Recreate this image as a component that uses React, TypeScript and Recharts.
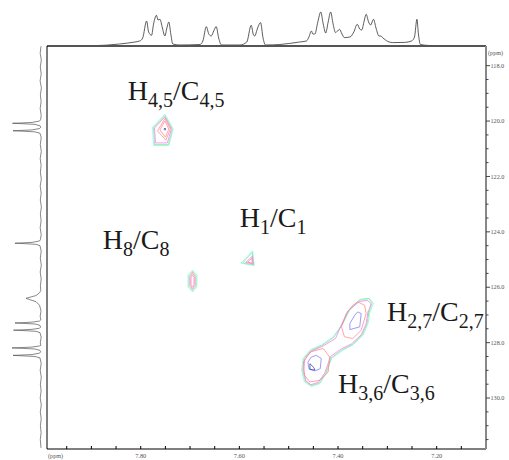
import React from 'react';
import { ScatterChart, Scatter, XAxis, YAxis, LineChart, Line, Label, ReferenceLine } from 'recharts';

// ---------- axes ----------
const X_DOMAIN: [number, number] = [7.1, 7.99];
const Y_DOMAIN: [number, number] = [117.29, 131.84];
const xTicks = [7.95, 7.9, 7.85, 7.8, 7.75, 7.7, 7.65, 7.6, 7.55, 7.5, 7.45, 7.4, 7.35, 7.3, 7.25, 7.2, 7.15];
const xTickLabels = ['7.80', '7.60', '7.40', '7.20'];
const yTicks = [118, 118.5, 119, 119.5, 120, 120.5, 121, 121.5, 122, 122.5, 123, 123.5, 124, 124.5, 125, 125.5, 126, 126.5, 127, 127.5, 128, 128.5, 129, 129.5, 130, 130.5, 131, 131.5];
const yTickLabels = ['118.0', '120.0', '122.0', '124.0', '126.0', '128.0', '130.0'];
const unitLabel = '(ppm)';

// ---------- 1H projection (top): [ppm, intensity] ----------
const topSpectrum: [number, number][] = [
  [7.989, 0], [7.897, 0.3], [7.843, 2], [7.812, 4], [7.802, 5], [7.796, 8], [7.788, 25], [7.784, 14],
  [7.778, 10.7], [7.774, 22], [7.768, 30.7], [7.765, 26], [7.761, 26.7], [7.756, 18], [7.751, 10],
  [7.747, 18], [7.743, 24], [7.739, 12], [7.735, 2], [7.721, 1], [7.68, 1.5], [7.674, 5], [7.667, 19.4],
  [7.662, 12], [7.657, 10], [7.652, 15], [7.647, 19.4], [7.642, 8], [7.636, 1], [7.599, 1], [7.585, 4],
  [7.576, 20.7], [7.572, 12], [7.569, 10], [7.563, 18], [7.557, 23.4], [7.552, 8], [7.547, 1],
  [7.518, 1.5], [7.478, 4], [7.464, 5], [7.459, 9], [7.454, 15], [7.451, 12], [7.447, 12], [7.441, 24],
  [7.435, 34], [7.43, 22], [7.425, 13], [7.42, 24], [7.415, 34], [7.41, 22], [7.405, 13.4], [7.401, 15],
  [7.397, 16.7], [7.392, 12], [7.387, 8.4], [7.376, 9], [7.368, 14], [7.361, 21.7], [7.356, 17],
  [7.352, 16], [7.347, 25], [7.343, 31.7], [7.338, 24], [7.334, 21], [7.328, 26.7], [7.323, 18],
  [7.317, 10], [7.313, 10], [7.309, 8], [7.305, 6.5], [7.299, 4.5], [7.289, 3.4], [7.265, 3.6],
  [7.251, 5], [7.245, 9], [7.24, 26.7], [7.237, 12], [7.233, 1.5], [7.214, 0.5], [7.1, 0],
];

// ---------- 13C projection (left): [ppm, intensity] ----------
const leftSpectrum: [number, number][] = [
  [117.3, 1.0], [117.55, 1.8], [117.8, 0.7], [118.05, 1.7], [118.3, 0.8], [118.55, 1.9], [118.8, 0.6],
  [119.05, 1.6], [119.3, 0.9], [119.55, 1.8], [119.8, 0.8], [119.95, 1.4],
  [120.0, 2.5], [120.05, 10], [120.07, 22], [120.08, 29.5], [120.095, 20], [120.12, 7], [120.17, 2],
  [120.22, 1.2],
  [120.27, 2.5], [120.32, 10], [120.34, 22], [120.35, 29], [120.365, 20], [120.39, 7], [120.44, 2],
  [120.6, 0.8], [120.85, 1.7], [121.1, 0.7], [121.35, 1.8], [121.6, 0.9], [121.85, 1.6], [122.1, 0.7],
  [122.35, 1.8], [122.6, 0.8], [122.85, 1.7], [123.1, 0.6], [123.35, 1.6], [123.6, 0.9], [123.85, 1.8],
  [124.1, 0.8], [124.28, 1.6],
  [124.33, 2.5], [124.38, 10], [124.4, 21], [124.41, 27], [124.425, 18], [124.45, 6], [124.5, 2],
  [124.7, 0.8], [124.95, 1.7], [125.2, 0.7], [125.45, 1.8], [125.7, 0.8], [125.95, 1.6], [126.12, 1.2],
  [126.2, 2.5], [126.3, 6], [126.36, 12], [126.4, 16], [126.45, 12], [126.52, 6], [126.65, 2.5],
  [126.85, 1.0], [127.05, 1.8], [127.18, 1.2],
  [127.22, 2.5], [127.26, 10], [127.28, 20], [127.29, 27], [127.305, 18], [127.33, 6], [127.38, 2],
  [127.44, 1.4],
  [127.48, 2.5], [127.52, 10], [127.54, 21], [127.55, 28.5], [127.565, 19], [127.59, 6], [127.64, 2],
  [127.8, 0.8], [128.0, 1.7], [128.1, 1.2],
  [128.12, 2.5], [128.16, 10], [128.18, 22], [128.19, 30], [128.205, 20], [128.23, 7], [128.28, 2],
  [128.33, 1.3],
  [128.38, 2.5], [128.43, 10], [128.45, 22], [128.46, 29], [128.475, 20], [128.5, 7], [128.55, 2],
  [128.75, 0.8], [129.0, 1.8], [129.25, 0.7], [129.5, 1.6], [129.75, 0.9], [130.0, 1.8], [130.25, 0.7],
  [130.5, 1.7], [130.75, 0.8], [131.0, 1.6], [131.25, 0.9], [131.5, 1.7], [131.8, 1.0],
];

// ---------- contours: [1H ppm, 13C ppm] ----------
const h45Cyan: [number, number][] = [[7.751, 119.75], [7.734, 120.29], [7.743, 120.88], [7.774, 120.88], [7.776, 120.22]];
const h45Green: [number, number][] = [[7.751, 119.8], [7.736, 120.29], [7.744, 120.85], [7.772, 120.85], [7.774, 120.23]];
const h45Magenta: [number, number][] = [[7.751, 119.85], [7.738, 120.29], [7.746, 120.79], [7.77, 120.79], [7.772, 120.25]];
const h45Red: [number, number][] = [[7.751, 119.91], [7.74, 120.29], [7.749, 120.69], [7.766, 120.36]];
const h45Red2: [number, number][] = [[7.751, 120.0], [7.743, 120.29], [7.75, 120.58], [7.761, 120.32]];
const h45Blue: [number, number][] = [[7.751, 120.25], [7.749, 120.29], [7.751, 120.33], [7.753, 120.29]];

const h8Cyan: [number, number][] = [[7.695, 125.38], [7.686, 125.56], [7.686, 125.99], [7.695, 126.17], [7.704, 125.99], [7.704, 125.56]];
const h8Green: [number, number][] = [[7.695, 125.43], [7.688, 125.59], [7.688, 125.96], [7.695, 126.12], [7.702, 125.96], [7.702, 125.59]];
const h8Red: [number, number][] = [[7.695, 125.47], [7.69, 125.62], [7.69, 125.93], [7.695, 126.07], [7.7, 125.93], [7.7, 125.62]];
const h8Magenta: [number, number][] = [[7.695, 125.55], [7.692, 125.65], [7.692, 125.9], [7.695, 126.0], [7.698, 125.9], [7.698, 125.65]];

const h1Cyan: [number, number][] = [[7.573, 124.68], [7.57, 125.22], [7.597, 125.13]];
const h1Green: [number, number][] = [[7.574, 124.74], [7.571, 125.19], [7.593, 125.12]];
const h1Magenta: [number, number][] = [[7.574, 124.88], [7.572, 125.16], [7.587, 125.1]];
const h1Red: [number, number][] = [[7.575, 124.95], [7.574, 125.13], [7.583, 125.09]];

const h27Cyan: [number, number][] = [
  [7.356, 126.47], [7.336, 126.41], [7.328, 126.57], [7.336, 126.95], [7.339, 127.31], [7.349, 127.73],
  [7.37, 128.09], [7.39, 128.27], [7.413, 128.57], [7.424, 129.12], [7.437, 129.48], [7.454, 129.58],
  [7.468, 129.42], [7.474, 129.0], [7.471, 128.57], [7.457, 128.27], [7.434, 128.09], [7.41, 127.79],
  [7.39, 127.31], [7.376, 126.83],
];
const h27Green: [number, number][] = [
  [7.356, 126.44], [7.338, 126.4], [7.331, 126.57], [7.338, 126.95], [7.341, 127.31], [7.351, 127.72],
  [7.371, 128.07], [7.391, 128.25], [7.414, 128.55], [7.425, 129.11], [7.438, 129.46], [7.454, 129.55],
  [7.466, 129.4], [7.472, 129.0], [7.469, 128.57], [7.455, 128.28], [7.432, 128.1], [7.408, 127.8],
  [7.391, 127.32], [7.378, 126.84],
];
const h27Magenta: [number, number][] = [
  [7.357, 126.52], [7.34, 126.47], [7.333, 126.6], [7.34, 126.95], [7.343, 127.33], [7.353, 127.72],
  [7.373, 128.05], [7.393, 128.22], [7.415, 128.5], [7.427, 129.1], [7.44, 129.43], [7.455, 129.52],
  [7.465, 129.38], [7.47, 129.0], [7.467, 128.58], [7.453, 128.3], [7.43, 128.12], [7.405, 127.85],
  [7.393, 127.35], [7.38, 126.85],
];
const h27Red: [number, number][] = [[7.36, 126.53], [7.346, 126.65], [7.343, 126.95], [7.353, 127.55], [7.37, 127.85], [7.387, 127.79], [7.393, 127.43], [7.383, 126.95], [7.37, 126.65]];
const h36Red: [number, number][] = [[7.43, 128.21], [7.417, 128.52], [7.42, 129.06], [7.437, 129.36], [7.457, 129.42], [7.468, 129.18], [7.47, 128.7], [7.457, 128.34]];
const h27Blue: [number, number][] = [[7.36, 126.89], [7.353, 126.95], [7.356, 127.43], [7.376, 127.53], [7.376, 127.31], [7.366, 127.01]];
const h36Blue: [number, number][] = [[7.444, 128.46], [7.434, 128.57], [7.436, 128.94], [7.447, 129.02], [7.459, 128.94], [7.461, 128.7], [7.454, 128.52]];
const h36Navy: [number, number][] = [[7.457, 128.76], [7.449, 128.9], [7.447, 128.99], [7.457, 128.97]];
const h27GreenTick: [number, number][] = [[7.339, 126.85], [7.339, 127.05]];

// ---------- peak labels ----------
const peakLabels = [
  { x: 7.8264, y: 119.24, a: 'H', s1: '4,5', b: '/C', s2: '4,5' },
  { x: 7.877, y: 124.62, a: 'H', s1: '8', b: '/C', s2: '8' },
  { x: 7.5993, y: 123.82, a: 'H', s1: '1', b: '/C', s2: '1' },
  { x: 7.3007, y: 127.22, a: 'H', s1: '2,7', b: '/C', s2: '2,7' },
  { x: 7.4, y: 129.82, a: 'H', s1: '3,6', b: '/C', s2: '3,6' },
];

// ---------- styles ----------
const C = {
  cyan: '#7ff2f2',
  green: '#7be87b',
  magenta: '#f070f0',
  red: '#ff8080',
  blue: '#7070ff',
  navy: '#2a2a9a',
};

const contours: { pts: [number, number][]; color: string; closed: boolean }[] = [
  { pts: h45Cyan, color: C.cyan, closed: true },
  { pts: h45Green, color: C.green, closed: true },
  { pts: h45Magenta, color: C.magenta, closed: true },
  { pts: h45Red, color: C.red, closed: true },
  { pts: h45Red2, color: C.red, closed: true },
  { pts: h45Blue, color: C.navy, closed: true },
  { pts: h8Cyan, color: C.cyan, closed: true },
  { pts: h8Green, color: C.green, closed: true },
  { pts: h8Red, color: C.red, closed: true },
  { pts: h8Magenta, color: C.magenta, closed: true },
  { pts: h1Cyan, color: C.cyan, closed: true },
  { pts: h1Green, color: C.green, closed: true },
  { pts: h1Magenta, color: C.magenta, closed: true },
  { pts: h1Red, color: C.red, closed: true },
  { pts: h27Cyan, color: C.cyan, closed: true },
  { pts: h27Green, color: C.green, closed: true },
  { pts: h27Magenta, color: C.magenta, closed: true },
  { pts: h27Red, color: C.red, closed: true },
  { pts: h36Red, color: C.red, closed: true },
  { pts: h27Blue, color: C.blue, closed: true },
  { pts: h36Blue, color: C.blue, closed: true },
  { pts: h36Navy, color: C.navy, closed: true },
  { pts: h27GreenTick, color: C.green, closed: false },
];

const toPts = (arr: [number, number][], closed: boolean) => {
  const p = arr.map(([x, y]) => ({ x, y }));
  if (closed) p.push({ ...p[0] });
  return p;
};

const topData = topSpectrum.map(([ppm, i]) => ({ ppm, i }));
const leftData = leftSpectrum.map(([ppm, i]) => ({ ppm, i }));

const SERIF = '"Liberation Serif", "DejaVu Serif", serif';
const noShape = () => <g />;

const XTick = (props: any) => {
  const { x, y, payload } = props;
  const lbl = Number(payload.value).toFixed(2);
  const major = xTickLabels.includes(lbl);
  return (
    <g>
      <line x1={x} y1={y} x2={x} y2={y - 3} stroke="#000" strokeWidth={1} />
      {major && (
        <text x={x} y={y + 9} textAnchor="middle" fontFamily={SERIF} fontSize={6.3} fill="#555">
          {lbl}
        </text>
      )}
    </g>
  );
};

const YTick = (props: any) => {
  const { x, y, payload } = props;
  const lbl = Number(payload.value).toFixed(1);
  const major = yTickLabels.includes(lbl);
  return (
    <g>
      <line x1={x} y1={y} x2={x + (major ? 4 : 2.5)} y2={y} stroke="#444" strokeWidth={1} />
      {major && (
        <text x={x + 4.5} y={y + 2.2} textAnchor="start" fontFamily={SERIF} fontSize={6.2} fill="#555">
          {lbl}
        </text>
      )}
    </g>
  );
};

const PeakLabel = (props: any) => {
  const { cx, cy, payload } = props;
  return (
    <text x={cx} y={cy} fontFamily={SERIF} fontSize={28} fill="#1a1a1a">
      <tspan>{payload.a}</tspan>
      <tspan dy={7} fontSize={20}>{payload.s1}</tspan>
      <tspan dy={-7}>{payload.b}</tspan>
      <tspan dy={7} fontSize={20}>{payload.s2}</tspan>
    </text>
  );
};

export default function App() {
  return (
    <div style={{ position: 'absolute', left: 0, top: 0, width: 509, height: 460, background: '#fff' }}>
      <div style={{ position: 'absolute', left: 0, top: 0 }}>
        <LineChart width={509} height={46} data={topData} margin={{ top: 6, right: 23, bottom: 0, left: 47 }}>
          <XAxis type="number" dataKey="ppm" domain={X_DOMAIN} reversed hide allowDataOverflow />
          <YAxis type="number" domain={[0, 40]} hide allowDataOverflow />
          <Line dataKey="i" type="monotone" stroke="#333" strokeWidth={0.8} dot={false} isAnimationActive={false} />
        </LineChart>
      </div>
      <div style={{ position: 'absolute', left: 0, top: 0 }}>
        <ScatterChart width={47} height={460} margin={{ top: 46, right: 5, bottom: 11, left: 0 }}>
          <XAxis type="number" dataKey="i" domain={[0, 42]} reversed hide allowDataOverflow />
          <YAxis type="number" dataKey="ppm" domain={Y_DOMAIN} reversed hide allowDataOverflow />
          <Scatter data={leftData} line={{ stroke: '#555', strokeWidth: 0.7 }} lineType="joint" shape={noShape} isAnimationActive={false} />
        </ScatterChart>
      </div>
      <div style={{ position: 'absolute', left: 0, top: 0 }}>
        <ScatterChart width={509} height={460} margin={{ top: 46, right: 0, bottom: 0, left: 47 }}>
          <XAxis
            type="number"
            dataKey="x"
            domain={X_DOMAIN}
            reversed
            allowDataOverflow
            ticks={xTicks}
            interval={0}
            tick={(p: any) => <XTick {...p} />}
            tickSize={0}
            tickMargin={0}
            tickLine={false}
            axisLine={{ stroke: '#000', strokeWidth: 1 }}
            height={11}
          >
            <Label
              content={(p: any) => (
                <text x={p.viewBox.x + 1} y={p.viewBox.y + 8.5} fontFamily={SERIF} fontSize={6.2} fill="#555">
                  {unitLabel}
                </text>
              )}
            />
          </XAxis>
          <YAxis
            type="number"
            dataKey="y"
            orientation="right"
            domain={Y_DOMAIN}
            reversed
            allowDataOverflow
            ticks={yTicks}
            interval={0}
            tick={(p: any) => <YTick {...p} />}
            tickSize={0}
            tickMargin={0}
            tickLine={false}
            axisLine={{ stroke: '#888', strokeWidth: 2 }}
            width={23}
          >
            <Label
              content={(p: any) => (
                <text x={p.viewBox.x + 2} y={p.viewBox.y + 8.5} fontFamily={SERIF} fontSize={6.2} fill="#555">
                  {unitLabel}
                </text>
              )}
            />
          </YAxis>
          <ReferenceLine y={Y_DOMAIN[0]} stroke="#555" strokeWidth={2} />
          <ReferenceLine x={X_DOMAIN[1]} stroke="#000" strokeWidth={1} />
          {contours.map((c, idx) => (
            <Scatter
              key={idx}
              data={toPts(c.pts, c.closed)}
              line={{ stroke: c.color, strokeWidth: 0.7 }}
              lineType="joint"
              shape={noShape}
              isAnimationActive={false}
            />
          ))}
          <Scatter data={peakLabels} shape={(p: any) => <PeakLabel {...p} />} isAnimationActive={false} />
        </ScatterChart>
      </div>
    </div>
  );
}
